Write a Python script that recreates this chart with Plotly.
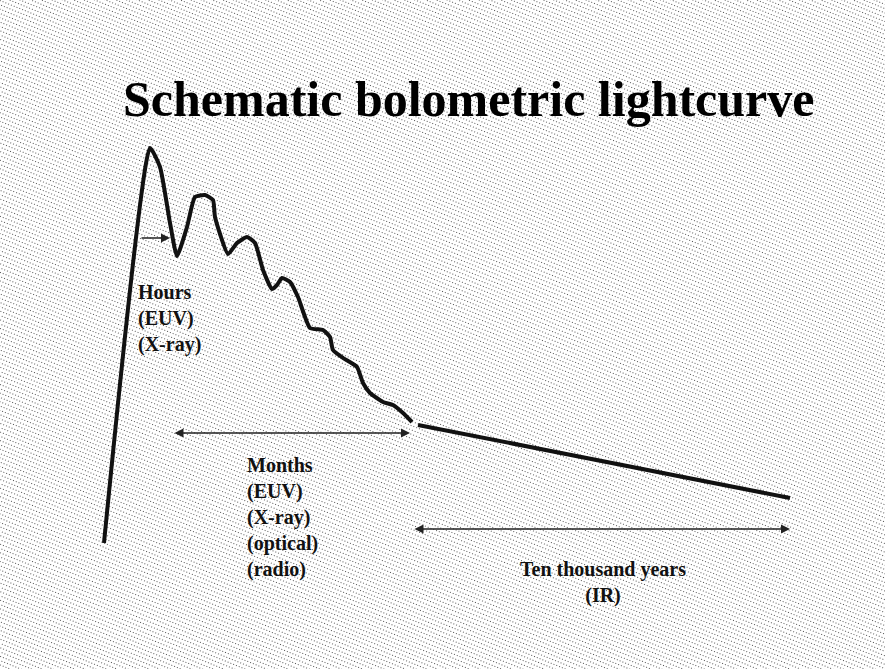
import base64
import plotly.graph_objects as go

W, H = 885, 669

# Schematic light curve (time units, luminosity units)
curve_t = [104, 150, 160, 170, 177, 187, 195, 205, 213, 215, 228, 237, 247, 255,
           263, 272, 277, 282, 290, 298, 310, 323, 330, 333, 343, 357, 363, 370,
           383, 393, 403, 412]
curve_l = [126, 521, 502, 446, 413, 442, 472, 474, 469, 452, 415, 426, 432, 426,
           399, 380, 384, 391, 387, 372, 341, 339, 332, 319, 311, 302, 286, 276,
           267, 264, 256, 247]
tail_t = [418, 790]
tail_l = [244, 171]

# arrows: (start_t, end_t, level, both_ends)
arrows = [
    (140, 170, 431, False),   # Hours
    (173, 410, 236, True),    # Months
    (413, 790, 140, True),    # Ten thousand years
]

title_text = "Schematic bolometric lightcurve"
hours_text = ["Hours", "(EUV)", "(X-ray)"]
months_text = ["Months", "(EUV)", "(X-ray)", "(optical)", "(radio)"]
years_text = ["Ten thousand years", "(IR)"]

fig = go.Figure()
fig.add_trace(go.Scatter(x=curve_t, y=curve_l, mode="lines",
                         line=dict(color="#111111", width=4, shape="spline", smoothing=0.5),
                         hoverinfo="skip", showlegend=False))
fig.add_trace(go.Scatter(x=tail_t, y=tail_l, mode="lines",
                         line=dict(color="#111111", width=4),
                         hoverinfo="skip", showlegend=False))

for x0, x1, lv, both in arrows:
    fig.add_annotation(x=x1, y=lv, ax=x0, ay=lv, xref="x", yref="y", axref="x", ayref="y",
                       text="", showarrow=True, arrowhead=2, arrowsize=1.2, arrowwidth=1.5,
                       arrowcolor="#222222", arrowside="end+start" if both else "end",
                       startarrowhead=2, startarrowsize=1.2)

serif = "Liberation Serif, Times New Roman, serif"
fig.add_annotation(x=468, y=570, xref="x", yref="y", text="<b>%s</b>" % title_text,
                   showarrow=False, font=dict(family=serif, size=50, color="#000000"))
fig.add_annotation(x=136, y=351, xref="x", yref="y", text="<b>" + "<br>".join(hours_text) + "</b>",
                   showarrow=False, xanchor="left", yanchor="middle", align="left",
                   font=dict(family=serif, size=20, color="#111111"))
fig.add_annotation(x=245, y=152, xref="x", yref="y", text="<b>" + "<br>".join(months_text) + "</b>",
                   showarrow=False, xanchor="left", yanchor="middle", align="left",
                   font=dict(family=serif, size=20, color="#111111"))
fig.add_annotation(x=603, y=87, xref="x", yref="y", text="<b>" + "<br>".join(years_text) + "</b>",
                   showarrow=False, xanchor="center", yanchor="middle", align="center",
                   font=dict(family=serif, size=20, color="#111111"))

# stippled slide background (decorative texture)
svg = ('<svg xmlns="http://www.w3.org/2000/svg" width="%d" height="%d">'
       '<defs><pattern id="p" width="3" height="4" patternUnits="userSpaceOnUse" '
       'patternTransform="rotate(22)"><rect x="0" y="0" width="1" height="1" fill="#555"/>'
       '</pattern></defs><rect width="100%%" height="100%%" fill="#ffffff"/>'
       '<rect width="100%%" height="100%%" fill="url(#p)"/></svg>') % (W, H)
src = "data:image/svg+xml;base64," + base64.b64encode(svg.encode()).decode()
fig.add_layout_image(source=src, xref="paper", yref="paper", x=0, y=1, sizex=1, sizey=1,
                     xanchor="left", yanchor="top", sizing="stretch", layer="below")

fig.update_xaxes(range=[0, W], visible=False, fixedrange=True)
fig.update_yaxes(range=[0, H], visible=False, fixedrange=True)
fig.update_layout(width=W, height=H, margin=dict(l=0, r=0, t=0, b=0),
                  paper_bgcolor="#ebebeb", plot_bgcolor="rgba(0,0,0,0)")
fig.write_html("out.html", config={"displayModeBar": False})

with open("out.html", "r", encoding="utf-8") as f:
    html = f.read()
html = html.replace("<body>", '<body style="margin:0;overflow:hidden">', 1)
with open("out.html", "w", encoding="utf-8") as f:
    f.write(html)
